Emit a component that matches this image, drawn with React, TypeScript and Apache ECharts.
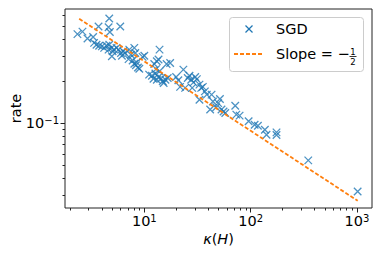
import React, { useEffect, useRef } from 'react';
import * as echarts from 'echarts';

// SGD scatter: condition number kappa(H) vs rate
const kappa = [
  2.35, 2.62, 2.92, 3.30, 3.71, 3.37, 3.55, 3.76, 3.99, 4.19,
  4.41, 4.68, 4.61, 4.74, 4.68, 4.61, 4.92, 5.03, 4.95, 5.21,
  5.48, 5.73, 5.94, 6.03, 6.16, 6.34, 6.57, 7.22, 7.48, 8.05,
  8.22, 7.11, 7.76, 8.05, 8.34, 8.71, 8.97, 8.47, 9.64, 10.0,
  13.9, 13.1, 13.6, 12.4, 12.9, 11.1, 11.8, 12.2, 13.1, 13.6,
  14.4, 14.9, 15.2, 15.8, 16.6, 16.2, 17.5, 13.9, 12.7, 19.9,
  20.9, 21.7, 23.3, 24.2, 25.6, 26.6, 27.6, 29.0, 30.1, 31.2,
  28.2, 33.0, 34.3, 35.5, 38.7, 37.1, 33.0, 42.9, 44.2, 41.6,
  49.5, 51.4, 53.2, 55.6, 57.7, 47.4, 71.6, 73.3, 78.7, 95.7,
  109, 117, 136, 141, 175, 175, 348, 1014,
];
const rate = [
  0.436, 0.454, 0.405, 0.416, 0.495, 0.377, 0.366, 0.360, 0.356, 0.347,
  0.360, 0.564, 0.488, 0.452, 0.366, 0.337, 0.347, 0.328, 0.302, 0.337,
  0.347, 0.337, 0.495, 0.319, 0.305, 0.328, 0.319, 0.337, 0.310, 0.347,
  0.319, 0.288, 0.282, 0.267, 0.260, 0.251, 0.246, 0.273, 0.299, 0.305,
  0.337, 0.278, 0.286, 0.266, 0.244, 0.223, 0.219, 0.208, 0.205, 0.214,
  0.209, 0.200, 0.194, 0.205, 0.211, 0.266, 0.270, 0.236, 0.227, 0.214,
  0.203, 0.182, 0.242, 0.179, 0.211, 0.219, 0.205, 0.196, 0.214, 0.207,
  0.179, 0.189, 0.179, 0.182, 0.160, 0.169, 0.147, 0.160, 0.143, 0.125,
  0.139, 0.149, 0.125, 0.121, 0.118, 0.130, 0.133, 0.115, 0.113, 0.103,
  0.0973, 0.0957, 0.0895, 0.0824, 0.0857, 0.0820, 0.0539, 0.0322,
];

// Reference line "Slope = -1/2" endpoints
const slopeKappa = [2.44, 1016];
const slopeRate = [0.562, 0.0276];

// Axis ranges and ticks
const xRange = [1.795, 1384];
const yRange = [0.02449, 0.6607];
const xMajorTicks = [10, 100, 1000];
const xMinorTicks = [2, 3, 4, 5, 6, 7, 8, 9, 20, 30, 40, 50, 60, 70, 80, 90, 200, 300, 400, 500, 600, 700, 800, 900];
const yMajorTicks = [0.1];
const yMinorTicks = [0.03, 0.04, 0.05, 0.06, 0.07, 0.08, 0.09, 0.2, 0.3, 0.4, 0.5, 0.6];

const FONT = 'DejaVu Sans';
const lg = (v: number) => Math.log10(v);

const powLabel = (v: number) => {
  const e = Math.round(v);
  const s = e < 0 ? '\u2212' + Math.abs(e) : String(e);
  return `{b|10}{s|${s}}`;
};
const rich = {
  b: { fontSize: 14.5, fontFamily: FONT, color: '#000', lineHeight: 16 },
  s: { fontSize: 10, fontFamily: FONT, color: '#000', lineHeight: 10, verticalAlign: 'top' },
};

export default function App() {
  const ref = useRef<HTMLDivElement>(null);
  useEffect(() => {
    document.body.style.margin = '0';
    if (!ref.current) return;
    const chart = echarts.init(ref.current, undefined, { renderer: 'svg' });
    const tickLine = { color: '#222', width: 1 };
    const option: any = {
      animation: false,
      grid: {
        left: 65, right: 10, top: 9, bottom: 47, show: true,
        borderColor: '#222', borderWidth: 1, backgroundColor: 'transparent',
        containLabel: false, outerBoundsMode: 'none',
      },
      xAxis: [
        {
          type: 'value', min: lg(xRange[0]), max: lg(xRange[1]), position: 'bottom',
          axisLine: { show: false }, splitLine: { show: false },
          axisTick: { show: true, customValues: xMajorTicks.map(lg), length: 4.5, lineStyle: tickLine },
          axisLabel: { customValues: xMajorTicks.map(lg), formatter: powLabel, rich, margin: 5 },
          name: '{i|κ}{n|(}{i|H}{n|)}', nameLocation: 'middle', nameGap: 23, nameMoveOverlap: false,
          nameTextStyle: {
            rich: {
              i: { fontSize: 14.5, fontFamily: FONT, fontStyle: 'italic', color: '#000' },
              n: { fontSize: 14.5, fontFamily: FONT, color: '#000' },
            },
          },
        },
        {
          type: 'value', min: lg(xRange[0]), max: lg(xRange[1]), position: 'bottom',
          axisLine: { show: false }, splitLine: { show: false },
          axisTick: { show: true, customValues: xMinorTicks.map(lg), length: 2.5, lineStyle: tickLine },
          axisLabel: { show: false },
        },
      ],
      yAxis: [
        {
          type: 'value', min: lg(yRange[0]), max: lg(yRange[1]), position: 'left',
          axisLine: { show: false }, splitLine: { show: false },
          axisTick: { show: true, customValues: yMajorTicks.map(lg), length: 4.5, lineStyle: tickLine },
          axisLabel: { customValues: yMajorTicks.map(lg), formatter: powLabel, rich, margin: 6 },
          name: 'rate', nameLocation: 'middle', nameGap: 42, nameMoveOverlap: false,
          nameTextStyle: { fontSize: 14.5, fontFamily: FONT, color: '#000' },
        },
        {
          type: 'value', min: lg(yRange[0]), max: lg(yRange[1]), position: 'left',
          axisLine: { show: false }, splitLine: { show: false },
          axisTick: { show: true, customValues: yMinorTicks.map(lg), length: 2.5, lineStyle: tickLine },
          axisLabel: { show: false },
        },
      ],
      series: [
        {
          name: 'SGD', type: 'scatter', xAxisIndex: 0, yAxisIndex: 0,
          symbol: 'path://M0,0L10,10M10,0L0,10', symbolSize: 7.5,
          itemStyle: { color: 'none', borderColor: '#1f77b4', borderWidth: 1.3 },
          data: kappa.map((k, i) => [lg(k), lg(rate[i])]),
          z: 2,
        },
        {
          name: 'Slope', type: 'line', xAxisIndex: 0, yAxisIndex: 0, symbol: 'none',
          lineStyle: { color: '#ff7f0e', width: 1.8, type: [4, 2] },
          data: slopeKappa.map((k, i) => [lg(k), lg(slopeRate[i])]),
          z: 3,
        },
      ],
      graphic: [
        {
          type: 'rect', z: 100,
          shape: { x: 229.5, y: 17.5, width: 134, height: 54, r: 3 },
          style: { fill: 'rgba(255,255,255,0.8)', stroke: '#cccccc', lineWidth: 1 },
        },
        { type: 'line', z: 101, shape: { x1: 245.5, y1: 25.5, x2: 252.5, y2: 32.5 }, style: { stroke: '#1f77b4', lineWidth: 1.3 } },
        { type: 'line', z: 101, shape: { x1: 252.5, y1: 25.5, x2: 245.5, y2: 32.5 }, style: { stroke: '#1f77b4', lineWidth: 1.3 } },
        { type: 'text', z: 101, x: 276, y: 29, style: { text: 'SGD', fontSize: 14.5, fontFamily: FONT, fill: '#000', verticalAlign: 'middle' } },
        { type: 'line', z: 101, shape: { x1: 234, y1: 54, x2: 263, y2: 54 }, style: { stroke: '#ff7f0e', lineWidth: 1.8, lineDash: [4, 2] } },
        { type: 'text', z: 101, x: 276, y: 54, style: { text: 'Slope = \u2212', fontSize: 14.5, fontFamily: FONT, fill: '#000', verticalAlign: 'middle' } },
        { type: 'text', z: 101, x: 353, y: 51.5, style: { text: '1', fontSize: 8.5, fontFamily: FONT, fill: '#000', align: 'center', verticalAlign: 'middle' } },
        { type: 'line', z: 101, shape: { x1: 349.5, y1: 56.5, x2: 356.5, y2: 56.5 }, style: { stroke: '#000', lineWidth: 0.8 } },
        { type: 'text', z: 101, x: 353, y: 62, style: { text: '2', fontSize: 8.5, fontFamily: FONT, fill: '#000', align: 'center', verticalAlign: 'middle' } },
      ],
    };
    chart.setOption(option);
    return () => chart.dispose();
  }, []);
  return <div ref={ref} style={{ width: 382, height: 255 }} />;
}
